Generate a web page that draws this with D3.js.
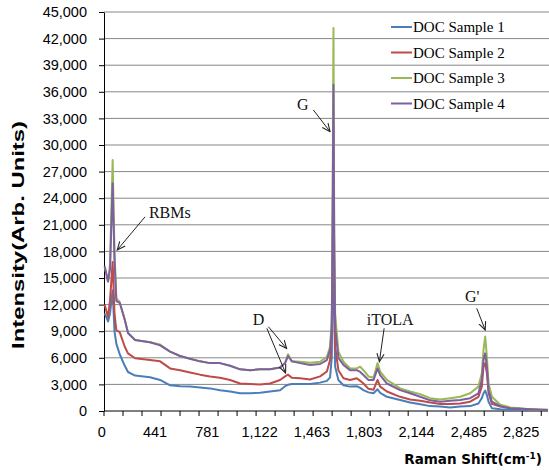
<!DOCTYPE html>
<html>
<head>
<meta charset="utf-8">
<script src="https://cdn.jsdelivr.net/npm/d3@7/dist/d3.min.js"></script>
<style>
  body { margin: 0; background: #fff; }
  svg { display: block; }
</style>
</head>
<body>
<svg id="raman" width="549" height="470"></svg>
<script>
// Raman spectra of four DOC samples
var ramanShift = [113,135,148,165,177,189,211,244,265,311,408,474,539,604,669,734,799,864,930,995,
  1060,1125,1190,1255,1288,1307,1332,1386,1451,1516,1560,1581,1592,1597,1603,1608,1614,1635,1668,1711,
  1755,1777,1798,1831,1864,1890,1907,1951,2037,2102,2168,2233,2298,2363,2428,2493,2547,2569,2580,2591,
  2602,2613,2635,2689,2754,2819,2884,2949,3000];

var sample1 = [11000,10100,11000,13600,9000,7600,6400,5100,4400,4000,3800,3500,2900,2800,2750,2650,2550,2350,2200,2000,
  2000,2050,2200,2350,2800,2950,3050,3050,3050,3200,3400,3800,6100,12000,25000,12000,5000,3500,2900,2750,
  2800,2600,2350,2100,2000,2450,2050,1600,1250,950,750,550,500,400,500,550,850,1450,2000,2300,
  1800,1050,300,200,150,150,120,100,100];

var sample2 = [12000,10600,12500,16800,11000,9100,8900,7250,6500,5950,5750,5600,4800,4600,4350,4100,3900,3750,3500,3100,
  3050,3000,3100,3500,3900,4100,3750,3700,3550,3900,4450,5750,9100,18000,32000,16000,7250,4600,3700,3500,
  3700,3400,3100,2500,2400,3500,2750,2200,1600,1300,1150,950,800,800,850,1050,1600,2750,5000,5400,
  4250,2000,800,500,350,250,200,150,150];

var sample3 = [16300,14600,16500,28300,18000,12700,12300,10300,8800,8000,7750,7500,6700,6200,5900,5600,5400,5400,5100,4700,
  4600,4700,4700,4900,5400,6400,5600,5550,5450,5550,6100,7250,10300,22000,43200,20000,11000,6700,5550,4800,
  4800,5000,4600,3900,3750,5400,4450,3500,2550,2200,1900,1450,1300,1450,1600,2000,2750,4250,6900,8400,
  6100,3100,1600,700,400,300,200,150,100];

var sample4 = [16300,14600,16000,25700,17000,12400,12200,10300,8800,8000,7750,7400,6700,6200,5900,5600,5400,5400,5100,4700,
  4600,4700,4700,4900,5400,6200,5600,5400,5200,5300,5750,6900,9500,20000,36800,18000,9500,6000,5200,4600,
  4600,4400,4050,3500,3500,4800,4050,3100,2350,2000,1600,1200,1050,1150,1250,1450,2000,3500,5750,6500,
  5000,2350,1050,550,300,250,200,150,100];

var seriesNames = ["DOC Sample 1", "DOC Sample 2", "DOC Sample 3", "DOC Sample 4"];
var seriesColors = ["#4a7ebb", "#be4b48", "#98b954", "#7d60a0"];

var xTickValues = [95, 441, 781, 1122, 1463, 1803, 2144, 2485, 2825];
var xTickLabels = ["0", "441", "781", "1,122", "1,463", "1,803", "2,144", "2,485", "2,825"];
var yTickValues = d3.range(0, 45001, 3000);

// peak annotations: label position and arrow(s) in data units
var annotations = [
  { text: "RBMs", x: 401, y: 21790, arrows: [[376, 21900, 195, 18160]] },
  { text: "G", x: 1366, y: 33950, arrows: [[1472, 33950, 1581, 31500]] },
  { text: "D", x: 1077, y: 9700, arrows: [[1179, 9510, 1298, 7050], [1169, 9330, 1291, 4290]] },
  { text: "iTOLA", x: 1820, y: 9700, arrows: [[1933, 9330, 1902, 5560]] },
  { text: "G'", x: 2460, y: 12290, arrows: [[2536, 11580, 2591, 9135]] }
];

var svg = d3.select("svg#raman");
var plotLeft = 104, plotRight = 548, plotTop = 12, plotBottom = 411;

var x = d3.scaleLinear().domain([108.7, 3000]).range([plotLeft, plotRight]);
var y = d3.scaleLinear().domain([0, 45000]).range([plotBottom, plotTop]);

// gridlines
svg.append("g")
  .selectAll("line")
  .data(yTickValues.filter(function(d) { return d > 0; }))
  .enter().append("line")
  .attr("x1", plotLeft).attr("x2", 549)
  .attr("y1", function(d) { return y(d); })
  .attr("y2", function(d) { return y(d); })
  .attr("stroke", "#868686")
  .attr("stroke-width", 1);

// y axis
var yAxis = svg.append("g")
  .attr("transform", "translate(" + plotLeft + ",0)")
  .call(d3.axisLeft(y).tickValues(yTickValues).tickFormat(d3.format(",")).tickSize(5).tickSizeOuter(0));
yAxis.select(".domain").attr("stroke", "#000");
yAxis.selectAll(".tick line").attr("stroke", "#000");
yAxis.selectAll("text")
  .attr("x", -17)
  .attr("font-family", "Liberation Sans, Arial, sans-serif")
  .attr("font-size", 14.5)
  .attr("fill", "#000");

// x axis: minor tick marks and category labels
var xAxis = svg.append("g").attr("transform", "translate(0," + plotBottom + ")");
xAxis.append("line")
  .attr("x1", plotLeft).attr("x2", plotRight)
  .attr("stroke", "#000");
xAxis.selectAll("line.tick")
  .data(d3.range(108.7, 3000, 123.8))
  .enter().append("line")
  .attr("class", "tick")
  .attr("x1", function(d) { return x(d); })
  .attr("x2", function(d) { return x(d); })
  .attr("y1", 0).attr("y2", 5)
  .attr("stroke", "#000");
xAxis.selectAll("text")
  .data(xTickValues)
  .enter().append("text")
  .attr("x", function(d) { return x(d); })
  .attr("y", 26)
  .attr("text-anchor", "middle")
  .attr("font-family", "Liberation Sans, Arial, sans-serif")
  .attr("font-size", 14.5)
  .text(function(d, i) { return xTickLabels[i]; });

// axis titles
svg.append("text")
  .attr("transform", "translate(24,235) rotate(-90)")
  .attr("text-anchor", "middle")
  .attr("font-family", "Liberation Sans, Arial, sans-serif")
  .attr("font-weight", "bold")
  .attr("font-size", 16)
  .attr("textLength", 228)
  .attr("lengthAdjust", "spacingAndGlyphs")
  .text("Intensity(Arb. Units)");

var xTitle = svg.append("text")
  .attr("x", 542)
  .attr("y", 464)
  .attr("text-anchor", "end")
  .attr("font-family", "DejaVu Sans, Verdana, sans-serif")
  .attr("font-weight", "bold")
  .attr("font-size", 13.5);
xTitle.append("tspan").text("Raman Shift(cm");
xTitle.append("tspan").attr("font-size", 9).attr("dy", -5).text("-1");
xTitle.append("tspan").attr("dy", 5).text(")");

// spectra
var allSeries = [sample1, sample2, sample3, sample4];
var line = d3.line()
  .x(function(d, i) { return x(ramanShift[i]); })
  .y(function(d) { return y(d); });

svg.append("g")
  .selectAll("path")
  .data(allSeries)
  .enter().append("path")
  .attr("d", line)
  .attr("fill", "none")
  .attr("stroke", function(d, i) { return seriesColors[i]; })
  .attr("stroke-width", 2)
  .attr("stroke-linejoin", "round");

// legend
var legend = svg.append("g").attr("transform", "translate(391,27)");
var item = legend.selectAll("g")
  .data(seriesNames)
  .enter().append("g")
  .attr("transform", function(d, i) { return "translate(0," + (i * 25.5) + ")"; });
item.append("line")
  .attr("x1", 0).attr("x2", 21)
  .attr("stroke", function(d, i) { return seriesColors[i]; })
  .attr("stroke-width", 2);
item.append("text")
  .attr("x", 22)
  .attr("dy", "0.35em")
  .attr("font-family", "Liberation Serif, Times New Roman, serif")
  .attr("font-size", 15)
  .text(function(d) { return d; });

// annotations
svg.append("defs").append("marker")
  .attr("id", "arrowhead")
  .attr("viewBox", "0 0 10 10")
  .attr("refX", 9).attr("refY", 5)
  .attr("markerWidth", 9).attr("markerHeight", 9)
  .attr("markerUnits", "userSpaceOnUse")
  .attr("orient", "auto")
  .append("path")
  .attr("d", "M0,1 L9,5 L0,9")
  .attr("fill", "none")
  .attr("stroke", "#222")
  .attr("stroke-width", 1.2);

var ann = svg.append("g");
annotations.forEach(function(a) {
  ann.append("text")
    .attr("x", x(a.x))
    .attr("y", y(a.y))
    .attr("font-family", "Liberation Serif, Times New Roman, serif")
    .attr("font-size", 16)
    .attr("fill", "#111")
    .text(a.text);
  a.arrows.forEach(function(r) {
    ann.append("line")
      .attr("x1", x(r[0])).attr("y1", y(r[1]))
      .attr("x2", x(r[2])).attr("y2", y(r[3]))
      .attr("stroke", "#222")
      .attr("stroke-width", 1)
      .attr("marker-end", "url(#arrowhead)");
  });
});
</script>
</body>
</html>
